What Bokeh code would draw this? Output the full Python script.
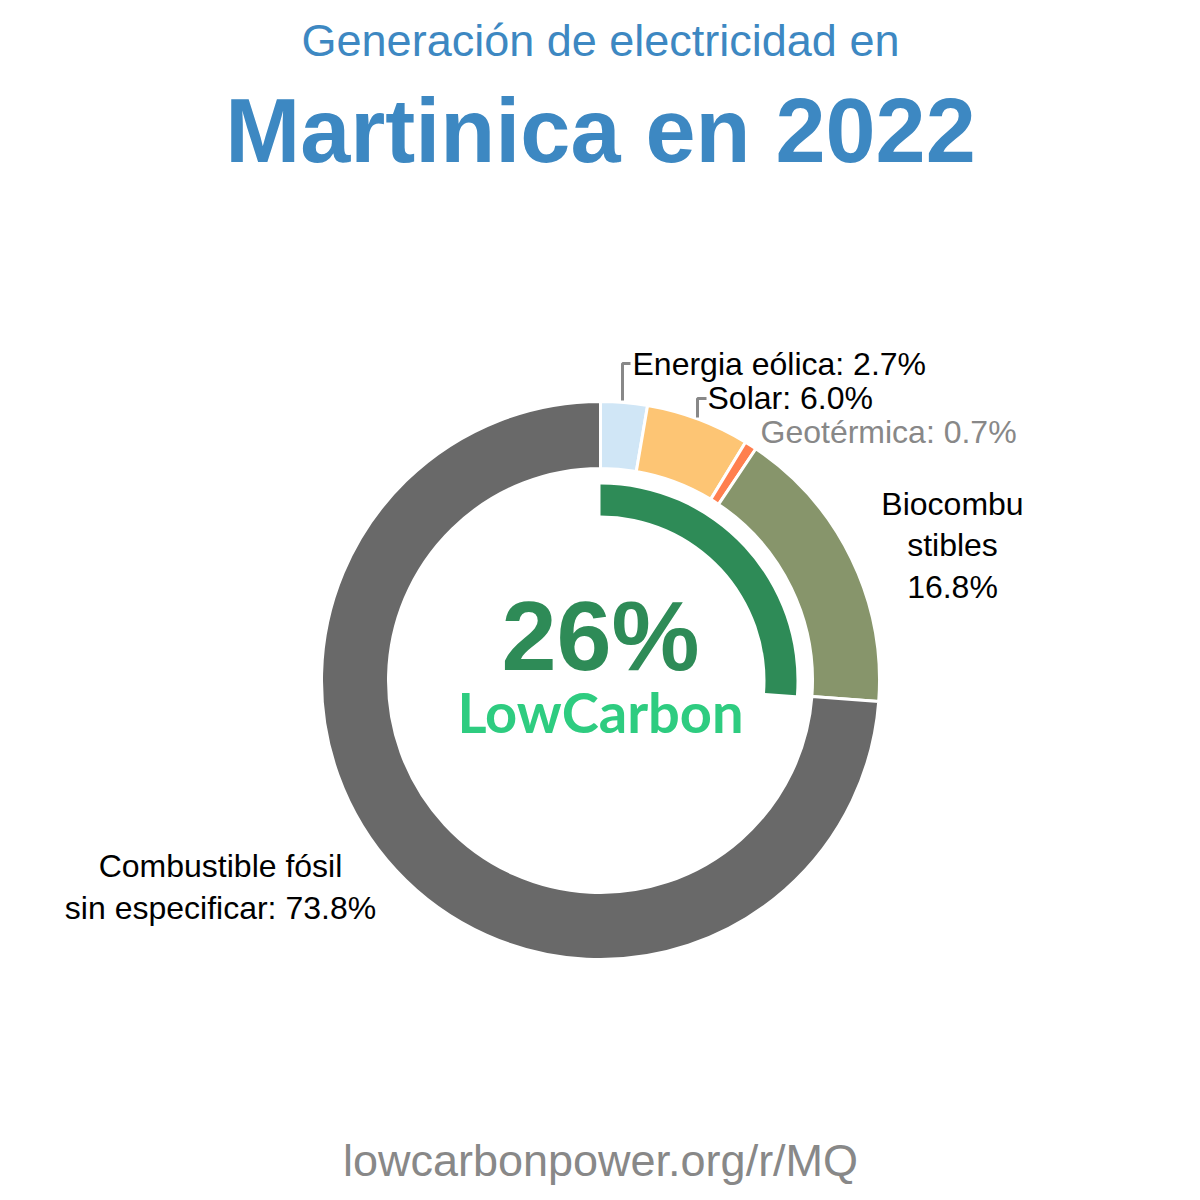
import math
from bokeh.plotting import figure
from bokeh.models import Range1d, ColumnDataSource
from bokeh.core.properties import value
from bokeh.embed import file_html
from bokeh.resources import INLINE

# Data
sources = ["Energia eólica", "Solar", "Geotérmica", "Biocombustibles", "Combustible fósil sin especificar"]
shares = [2.7, 6.0, 0.7, 16.8, 73.8]
colors = ["#d0e6f6", "#fdc574", "#ff7f4f", "#87956b", "#696969"]
low_carbon = [True, True, True, True, False]
title_top = "Generación de electricidad en"
title_main = "Martinica en 2022"
footer = "lowcarbonpower.org/r/MQ"

W = H = 1200
p = figure(width=W, height=H, output_backend="svg", toolbar_location=None,
           x_range=Range1d(0, W), y_range=Range1d(0, H), min_border=0)
p.axis.visible = False
p.grid.visible = False
p.outline_line_color = None
p.background_fill_color = "white"

def Y(py):
    return H - py

cx, cy = 600, Y(680)
R_out, R_in = 279, 212

total = sum(shares)
starts, ends = [], []
cum = 0.0
for s in shares:
    a0 = math.pi / 2 - 2 * math.pi * (cum + s) / total
    a1 = math.pi / 2 - 2 * math.pi * cum / total
    starts.append(a0)
    ends.append(a1)
    cum += s

src = ColumnDataSource(dict(x=[cx] * len(shares), y=[cy] * len(shares),
                            start=starts, end=ends, color=colors))
p.annular_wedge(x="x", y="y", inner_radius=R_in, outer_radius=R_out,
                start_angle="start", end_angle="end", fill_color="color",
                line_color="white", line_width=3, source=src)

# Low-carbon inner arc
lc_share = sum(s for s, l in zip(shares, low_carbon) if l)
p.annular_wedge(x=cx, y=cy, inner_radius=165, outer_radius=196,
                start_angle=math.pi / 2 - 2 * math.pi * lc_share / total,
                end_angle=math.pi / 2, fill_color="#2e8b57", line_color=None)

font = value("Liberation Sans")

# Titles
p.text(x=[600], y=[Y(40)], text=[title_top], text_font=font, text_font_size="45px",
       text_color="#3d88c2", text_align="center", text_baseline="middle")
p.text(x=[600], y=[Y(130)], text=[title_main], text_font=font, text_font_size="90px",
       text_font_style="bold", text_color="#3d88c2", text_align="center", text_baseline="middle")

# Center
p.text(x=[600], y=[Y(635)], text=[f"{round(lc_share)}%"], text_font=font, text_font_size="99px",
       text_font_style="bold", text_color="#2e8b57", text_align="center", text_baseline="middle")
p.text(x=[600], y=[Y(711)], text=["LowCarbon"], text_font=value("Lato"), text_font_size="56px",
       text_font_style="bold", text_color="#2ecc80", text_align="center", text_baseline="middle")

# Leader lines
p.line(x=[622, 622, 630], y=[Y(400), Y(363), Y(363)], line_color="#888888", line_width=3)
p.line(x=[697, 697, 706], y=[Y(417), Y(398), Y(398)], line_color="#888888", line_width=3)

# Slice labels
lbl_font_size = "32px"
p.text(x=[632], y=[Y(363)], text=[f"{sources[0]}: {shares[0]}%"], text_font=font,
       text_font_size=lbl_font_size, text_color="black", text_align="left", text_baseline="middle")
p.text(x=[707], y=[Y(397)], text=[f"{sources[1]}: {shares[1]}%"], text_font=font,
       text_font_size=lbl_font_size, text_color="black", text_align="left", text_baseline="middle")
p.text(x=[760], y=[Y(431)], text=[f"{sources[2]}: {shares[2]}%"], text_font=font,
       text_font_size=lbl_font_size, text_color="#888888", text_align="left", text_baseline="middle")
p.text(x=[952, 952, 952], y=[Y(503), Y(544), Y(586)],
       text=["Biocombu", "stibles", f"{shares[3]}%"], text_font=font,
       text_font_size=lbl_font_size, text_color="black", text_align="center", text_baseline="middle")
p.text(x=[220, 220], y=[Y(865), Y(907)],
       text=["Combustible fósil", f"sin especificar: {shares[4]}%"], text_font=font,
       text_font_size=lbl_font_size, text_color="black", text_align="center", text_baseline="middle")

# Footer
p.text(x=[600], y=[Y(1160)], text=[footer], text_font=font, text_font_size="45px",
       text_color="#888888", text_align="center", text_baseline="middle")

open("out.html", "w").write(file_html(p, INLINE))
